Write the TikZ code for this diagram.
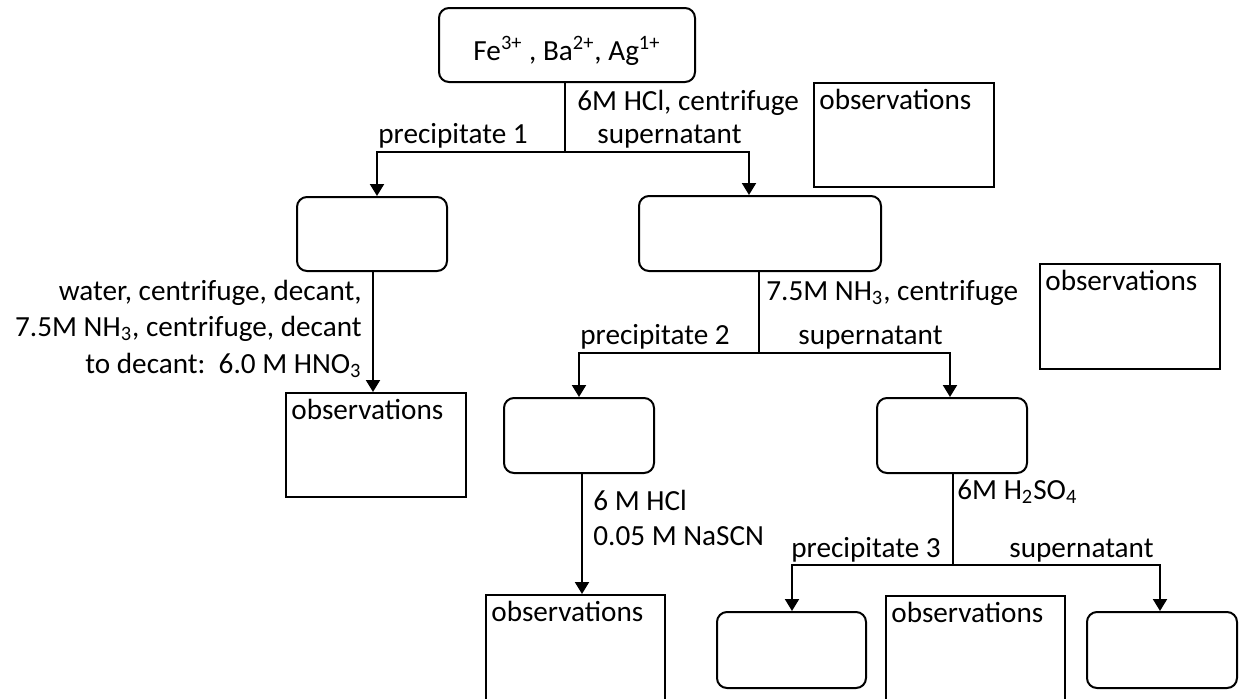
\documentclass[tikz,border=0pt]{standalone}
\usepackage{fontspec}
\setmainfont{Carlito}
\usetikzlibrary{arrows.meta}
\begin{document}
\begin{tikzpicture}[x=0.5pt,y=-0.5pt,
  every node/.style={font=\fontsize{14.6}{17}\selectfont},
  rbox/.style={draw, line width=1pt, rounded corners=5pt, inner sep=0pt},
  obox/.style={draw, line width=1pt, inner sep=0pt},
  lbl/.style={inner sep=0pt, anchor=base west},
  lble/.style={inner sep=0pt, anchor=base east},
  conn/.style={line width=1pt},
  arr/.style={line width=1pt, -{Triangle[length=6pt,width=7pt]}}
]
\useasboundingbox (0,0) rectangle (1244,698);
\clip (0,0) rectangle (1244,698);

% boxes
\node[rbox, minimum width=128pt, minimum height=37pt, text height=15pt, text depth=0pt] (top) at (567,45) {Fe\textsuperscript{3+} , Ba\textsuperscript{2+}, Ag\textsuperscript{1+}};
\node[rbox, minimum width=75pt, minimum height=37pt] (L1) at (372,234) {};
\node[rbox, minimum width=121pt, minimum height=37.5pt] (R1) at (760,233.5) {};
\node[obox, minimum width=90pt, minimum height=52pt] (O1) at (904,135) {};
\node[obox, minimum width=90pt, minimum height=52.5pt] (O2) at (1130,316.5) {};
\node[obox, minimum width=90pt, minimum height=52pt] (OL) at (376,445) {};
\node[rbox, minimum width=75pt, minimum height=37.5pt] (L2) at (579,435.5) {};
\node[rbox, minimum width=75pt, minimum height=37.5pt] (R2) at (952,435.5) {};
\node[obox, minimum width=89.5pt, minimum height=62.5pt] (O3) at (575.5,657.5) {};
\node[obox, minimum width=89.5pt, minimum height=62pt] (O4) at (975.5,658) {};
\node[rbox, minimum width=74.5pt, minimum height=38pt] (L3) at (791.5,650) {};
\node[rbox, minimum width=75pt, minimum height=38pt] (R3) at (1162,650) {};

% observation labels
\foreach \b in {O1,O2,OL,O3,O4}
  \node[lbl] (\b t) at ([xshift=3pt,yshift=-13.5pt]\b.north west) {observations};

% junctions
\coordinate (j1) at (565,152);
\coordinate (a1) at (377,152);
\coordinate (b1) at (749,152);
\coordinate (j2) at (759,353);
\coordinate (a2) at (579,353);
\coordinate (b2) at (950,353);
\coordinate (j3) at (953,565);
\coordinate (a3) at (792,565);
\coordinate (b3) at (1160,565);

% connectors
\draw[conn] (top.south -| j1) -- (j1);
\draw[arr] (j1) -- (a1) -- (a1 |- L1.north);
\draw[arr] (j1) -- (b1) -- (b1 |- R1.north);
\draw[arr] ([xshift=0.5pt]L1.south) -- ([xshift=0.5pt]L1.south |- OL.north);
\draw[conn] (R1.south -| j2) -- (j2);
\draw[arr] (j2) -- (a2) -- (a2 |- L2.north);
\draw[arr] (j2) -- (b2) -- (b2 |- R2.north);
\draw[arr] ([xshift=1.5pt]L2.south) -- ([xshift=1.5pt]L2.south |- O3.north);
\draw[conn] (R2.south -| j3) -- (j3);
\draw[arr] (j3) -- (a3) -- (a3 |- L3.north);
\draw[arr] (j3) -- (b3) -- (b3 |- R3.north);

% labels
\node[lbl] (t1) at (577,110) {6M HCl, centrifuge};
\node[lbl] (t2) at (597,143) {supernatant};
\node[lbl] (t3) at (378,143) {precipitate 1};
\node[lble] (t4) at (362,300) {water, centrifuge, decant,};
\node[lble] (t5) at (362,336) {7.5M NH\textsubscript{3}, centrifuge, decant};
\node[lble] (t6) at (362,373) {to decant:\ \ 6.0 M HNO\textsubscript{3}};
\node[lbl] (t7) at (766,300) {7.5M NH\textsubscript{3}, centrifuge};
\node[lbl] (t8) at (580,344) {precipitate 2};
\node[lbl] (t9) at (798,344) {supernatant};
\node[lbl] (t10) at (593,510) {6 M HCl};
\node[lbl] (t11) at (593,545) {0.05 M NaSCN};
\node[lbl] (t12) at (957,499) {6M H\textsubscript{2}SO\textsubscript{4}};
\node[lbl] (t13) at (791,557) {precipitate 3};
\node[lbl] (t14) at (1009,557) {supernatant};
\end{tikzpicture}
\end{document}
